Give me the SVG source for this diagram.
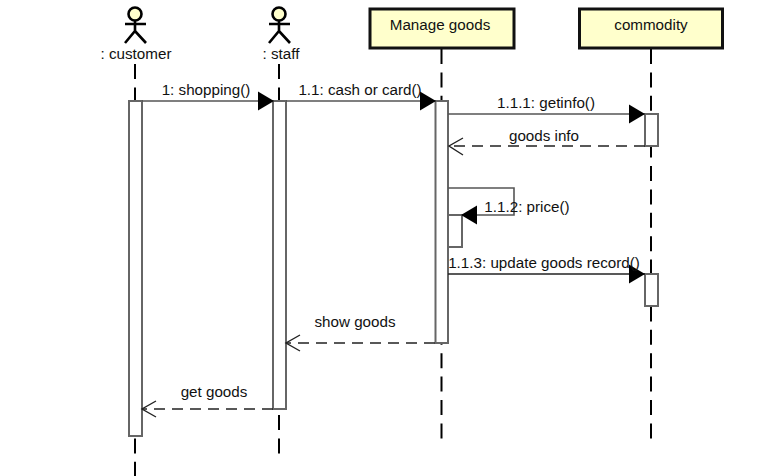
<svg xmlns="http://www.w3.org/2000/svg" width="783" height="476" viewBox="0 0 783 476">
<style>
text{font-family:"Liberation Sans",Arial,sans-serif;font-size:15.2px;fill:#111;text-anchor:middle}
.life{stroke:#000;stroke-width:2;stroke-dasharray:15 8.400;fill:none}
.act{fill:#fff;stroke:#666;stroke-width:2}
.box{fill:#ffffcc;stroke:#111;stroke-width:3}
.actor{fill:none;stroke:#000;stroke-width:2.600}
.head{fill:#ffffcc;stroke:#000;stroke-width:2.600}
.msg{fill:none;stroke:#555;stroke-width:1.600}
.dash{fill:none;stroke:#222;stroke-width:1.600;stroke-dasharray:11 7}
.open{fill:none;stroke:#222;stroke-width:1.400}
</style>
<defs>
<path id="tri" d="M-16 -9.500 L0 0 L-16 9.500 Z" fill="#000"/>
</defs>
<g id="lifelines">
<line class="life" x1="135" y1="64" x2="135" y2="476"/>
<line class="life" x1="279" y1="64" x2="279" y2="454"/>
<line class="life" x1="441.500" y1="49" x2="441.500" y2="442"/>
<line class="life" x1="651" y1="49" x2="651" y2="442"/>
</g>
<g id="customer">
<circle class="head" cx="135" cy="14" r="6.500"/>
<path class="actor" d="M135 20.500V31M125 24H146M125 43L135 31L146 43"/>
<text x="136" y="59">: customer</text>
</g>
<g id="staff">
<circle class="head" cx="279" cy="14" r="6.500"/>
<path class="actor" d="M279 20.500V31M269 24H290M269 43L279 31L290 43"/>
<text x="281" y="59">: staff</text>
</g>
<g id="manage-goods">
<rect class="box" x="370" y="9" width="144" height="39"/>
<text x="440" y="30">Manage goods</text>
</g>
<g id="commodity">
<rect class="box" x="579.500" y="9" width="143" height="39"/>
<text x="651" y="30">commodity</text>
</g>
<g id="activations">
<rect class="act" x="129" y="101" width="13" height="335"/>
<rect class="act" x="273" y="101" width="13" height="308"/>
<rect class="act" x="435.500" y="101" width="12.500" height="242"/>
<rect class="act" x="645" y="114" width="13" height="32"/>
<rect class="act" x="448" y="215" width="14" height="32" stroke="#222"/>
<rect class="act" x="645" y="274" width="13" height="32"/>
</g>
<g id="connectors">
<line class="msg" x1="142" y1="101" x2="274" y2="101"/>
<use href="#tri" x="274" y="101"/>
<line class="msg" x1="286" y1="101" x2="436" y2="101"/>
<use href="#tri" x="436" y="101"/>
<line class="msg" x1="448" y1="114" x2="645" y2="114"/>
<use href="#tri" x="645" y="114"/>
<line class="dash" x1="645" y1="146" x2="449" y2="146"/>
<path class="open" d="M463 138L449 146L463 155"/>
<path class="msg" d="M448 188H514V215H462"/>
<use href="#tri" transform="translate(461 215) rotate(180)"/>
<line class="msg" x1="448" y1="274" x2="645" y2="274" style="stroke:#222"/>
<use href="#tri" x="645" y="274"/>
<line class="dash" x1="435" y1="343" x2="286" y2="343"/>
<path class="open" d="M300 335L286 343L300 351"/>
<line class="dash" x1="273" y1="409" x2="142" y2="409"/>
<path class="open" d="M156 401L142 409L156 417"/>
</g>
<g id="labels">
<text x="206" y="95">1: shopping()</text>
<text x="360" y="95">1.1: cash or card()</text>
<text x="546" y="108">1.1.1: getinfo()</text>
<text x="544" y="141">goods info</text>
<text x="527" y="212">1.1.2: price()</text>
<text x="544" y="268">1.1.3: update goods record()</text>
<text x="355" y="327">show goods</text>
<text x="214" y="397">get goods</text>
</g>
</svg>
